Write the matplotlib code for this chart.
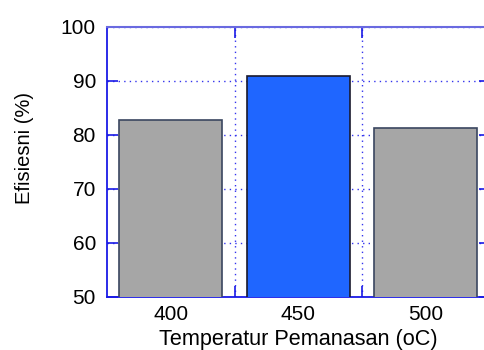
import matplotlib
matplotlib.use("Agg")
import matplotlib.pyplot as plt

categories = ["400", "450", "500"]
values = [82.8, 91.0, 81.3]
bar_colors = ["#a6a6a6", "#1f66ff", "#a6a6a6"]
edge_colors = ["#3a4660", "#1a1a2e", "#3a4660"]
yticks = [50, 60, 70, 80, 90, 100]

plt.rcParams['font.family'] = ['Liberation Sans', 'DejaVu Sans']

fig = plt.figure(figsize=(4.84, 3.5), dpi=100)
ax = fig.add_axes([107/484, 53/350, 382.5/484, 270/350])

x = list(range(len(categories)))
ax.bar(x, values, width=0.81, color=bar_colors, edgecolor=edge_colors,
       linewidth=1.2, zorder=3)

ax.set_xlim(-0.5, 2.5)
ax.set_ylim(50, 100)
ax.set_yticks(yticks)
ax.set_xticks([0.5, 1.5], labels=["", ""])
ax.set_xticks(x, labels=categories, minor=True)

blue = "#1a1ae6"
ax.tick_params(axis='both', which='major', direction='in', length=8,
               width=1.2, color=blue, labelsize=15, top=True, right=True,
               pad=6)
ax.tick_params(axis='x', which='minor', length=0, labelsize=15, pad=6)
ax.tick_params(axis='y', which='major', pad=8)

ax.grid(True, which='major', axis='both', color='#3333ee', linestyle=(0, (1, 3)),
        linewidth=1.0, zorder=1)

for side in ['left', 'bottom', 'right']:
    ax.spines[side].set_color(blue)
    ax.spines[side].set_linewidth(1.3)
ax.spines['top'].set_color('#6a6ae0')
ax.spines['top'].set_linewidth(1.5)

ax.set_xlabel("Temperatur Pemanasan (oC)", fontsize=15.6)
ax.set_ylabel("Efisiesni (%)", fontsize=14.5)
ax.yaxis.set_label_coords(-0.192, 0.55)
ax.xaxis.set_label_coords(0.5, -0.117)

fig.savefig("out.png", dpi=100)
